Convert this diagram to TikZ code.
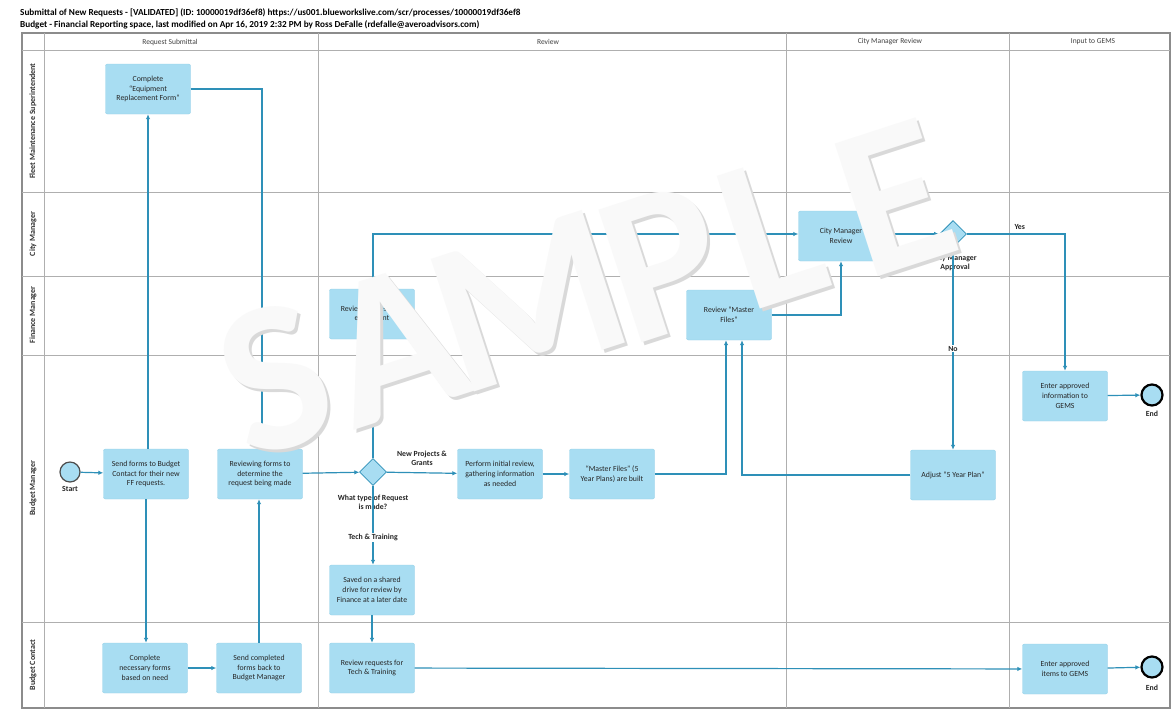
\documentclass[tikz,border=0pt]{standalone}
\usepackage{fontspec}
\setmainfont{Carlito}
\usetikzlibrary{shapes.geometric,arrows.meta}
\definecolor{boxfill}{HTML}{A8DDF2}
\definecolor{flow}{HTML}{2E90B8}
\definecolor{lanegray}{HTML}{8C8C8C}
\begin{document}
\begin{tikzpicture}[x=1pt,y=-1pt,
  task/.style={draw=boxfill!85!flow, fill=boxfill, rounded corners=2pt, minimum width=85pt, minimum height=50pt, align=center, inner sep=2pt, font=\fontsize{7.8}{9.8}\selectfont, text=black!85},
  gateway/.style={diamond, draw=flow, fill=boxfill, line width=0.8pt, minimum width=27pt, minimum height=27pt, inner sep=0pt},
  startev/.style={circle, draw=black!70, fill=boxfill, line width=1.2pt, minimum size=20pt, inner sep=0pt},
  endev/.style={circle, draw=black, fill=boxfill, line width=2.2pt, minimum size=21pt, inner sep=0pt},
  flowarr/.style={draw=flow, line width=1.2pt, -{Latex[length=5pt,width=4.5pt]}},
  lbl/.style={font=\fontsize{7.8}{9.3}\selectfont\bfseries, align=center, text=black!85},
  lanelbl/.style={rotate=90, font=\fontsize{8}{9}\selectfont\bfseries, text=black!80},
  hdr/.style={font=\fontsize{7.5}{9}\selectfont, text=black!75},
  pool/.style={draw=lanegray, line width=1.2pt},
  laneline/.style={draw=lanegray!70, line width=0.8pt},
  wmshadow/.style={rotate=18, font=\fontsize{215}{215}\selectfont\bfseries, text=gray!30, inner sep=0pt},
  wmletter/.style={rotate=18, font=\fontsize{215}{215}\selectfont\bfseries, text=white!95!gray, inner sep=0pt}
]
\useasboundingbox (0,0) rectangle (1172,716);
\fill[white] (0,0) rectangle (1172,716);

% title
\node[anchor=west, font=\fontsize{9.2}{10}\selectfont\bfseries, inner sep=0pt] (title1) at (20,13) {Submittal of New Requests - [VALIDATED] (ID: 10000019df36ef8) https://us001.blueworkslive.com/scr/processes/10000019df36ef8};
\node[anchor=west, font=\fontsize{9.2}{10}\selectfont\bfseries, inner sep=0pt] (title2) at (20,25) {Budget - Financial Reporting space, last modified on Apr 16, 2019 2:32 PM by Ross DeFalle (rdefalle@averoadvisors.com)};

% pool and lanes
\draw[pool] (22,33) rectangle (1170,708);
\draw[laneline] (22,50) -- (1170,50);
\draw[laneline] (44,33) -- (44,708);
\draw[laneline] (22,192) -- (1170,192);
\draw[laneline] (22,276) -- (1170,276);
\draw[laneline] (22,355) -- (1170,355);
\draw[laneline] (22,622) -- (1170,622);
\draw[laneline] (318,33) -- (318,708);
\draw[laneline] (786,33) -- (786,708);
\draw[laneline] (1009,33) -- (1009,708);

\node[hdr] (h1) at (170,42) {Request Submittal};
\node[hdr] (h2) at (548,42) {Review};
\node[hdr] (h3) at (890,42) {City Manager Review};
\node[hdr] (h4) at (1093,42) {Input to GEMS};

\node[lanelbl] (l1) at (33,121) {Fleet Maintenance Superintendent};
\node[lanelbl] (l2) at (33,234) {City Manager};
\node[lanelbl] (l3) at (33,315) {Finance Manager};
\node[lanelbl] (l4) at (33,488) {Budget Manager};
\node[lanelbl] (l5) at (33,665) {Budget Contact};

% nodes
\node[startev] (start) at (70,472) {};
\node[lbl] (startl) at (70,489) {Start};
\node[task] (sendforms) at (146,474) {Send forms to Budget\\Contact for their new\\FF requests.};
\node[task] (erf) at (148,89) {Complete\\``Equipment\\Replacement Form''};
\node[task] (reviewing) at (260,474) {Reviewing forms to\\determine the\\request being made};
\node[task] (complete) at (145,668) {Complete\\necessary forms\\based on need};
\node[task] (sendback) at (259,668) {Send completed\\forms back to\\Budget Manager};
\node[gateway] (gw1) at (373,472) {};
\node[lbl] (gw1l) at (373,502) {What type of Request\\is made?};
\node[task] (perform) at (500,474) {Perform initial review,\\gathering information\\as needed};
\node[task] (mfbuilt) at (612,474) {``Master Files'' (5\\Year Plans) are built};
\node[task] (saved) at (372,590) {Saved on a shared\\drive for review by\\Finance at a later date};
\node[task] (techrev) at (372,668) {Review requests for\\Tech \& Training};
\node[task] (finrev) at (372,314) {Review requests for\\equipment};
\node[task] (rmf) at (729,315) {Review ``Master\\Files''};
\node[task] (cmr) at (841,236) {City Manager\\Review};
\node[gateway] (gw2) at (953,234) {};
\node[lbl] (gw2l) at (955,263) {City Manager\\Approval};
\node[task] (adjust) at (953,475) {Adjust ``5 Year Plan''};
\node[task] (info) at (1065,396) {Enter approved\\information to\\GEMS};
\node[endev] (end1) at (1152,395) {};
\node[lbl] (end1l) at (1152,414) {End};
\node[task] (items) at (1065,669) {Enter approved\\items to GEMS};
\node[endev] (end2) at (1152,667) {};
\node[lbl] (end2l) at (1152,688) {End};
\node[lbl, anchor=west] (yes) at (1011,227) {Yes};

% connectors
\draw[flowarr] (start) -- (sendforms);
\draw[flowarr] (sendforms.north -| erf.south) -- (erf.south);
\draw[flowarr] (erf.east) -| ([xshift=2pt]reviewing.north);
\draw[flowarr] (sendforms.south) -- (sendforms.south |- complete.north);
\draw[flowarr] (complete) -- (sendback);
\draw[flowarr] (sendback.north) -- (sendback.north |- reviewing.south);
\draw[flowarr] (reviewing) -- (gw1);
\draw[flowarr] (gw1) -- node[lbl, above=3pt] (npg) {New Projects \&\\Grants} (perform);
\draw[flowarr] (gw1.south) -- node[lbl, fill=white, inner sep=1pt, pos=0.65] (tt) {Tech \& Training} (saved.north -| gw1.south);
\draw[flowarr] (gw1.north) -- (finrev.south -| gw1.north);
\draw[flowarr] (finrev.north -| gw1.north) |- (cmr.west |- gw2.west);
\draw[flowarr] (saved) -- (techrev);
\draw[flowarr] (techrev) -- (items);
\draw[flowarr] (items) -- (end2);
\draw[flowarr] (perform) -- (mfbuilt);
\draw[flowarr] (mfbuilt.east) -| ([xshift=-3pt]rmf.south);
\draw[flowarr] (adjust.west) -| ([xshift=13pt]rmf.south);
\draw[flowarr] (rmf.east) -| (cmr.south);
\draw[flowarr] (cmr.east |- gw2.west) -- (gw2.west);
\draw[flowarr] (gw2.east) -| (info.north);
\draw[flowarr] (gw2.south) -- node[lbl, fill=white, inner sep=1pt, pos=0.5] (no) {No} (adjust.north);
\draw[flowarr] (info) -- (end1);

% watermark, letter by letter
\node[wmshadow] (s0) at (278,381) {S};
\node[wmshadow] (a0) at (397,347) {A};
\node[wmshadow] (m0) at (531,304) {M};
\node[wmshadow] (p0) at (666,266) {P};
\node[wmshadow] (ll0) at (774,235) {L};
\node[wmshadow] (e0) at (898,201) {E};
\node[wmletter] (s1) at (275,378) {S};
\node[wmletter] (a1) at (394,344) {A};
\node[wmletter] (m1) at (528,301) {M};
\node[wmletter] (p1) at (663,263) {P};
\node[wmletter] (ll1) at (771,232) {L};
\node[wmletter] (e1) at (895,198) {E};
\end{tikzpicture}
\end{document}
